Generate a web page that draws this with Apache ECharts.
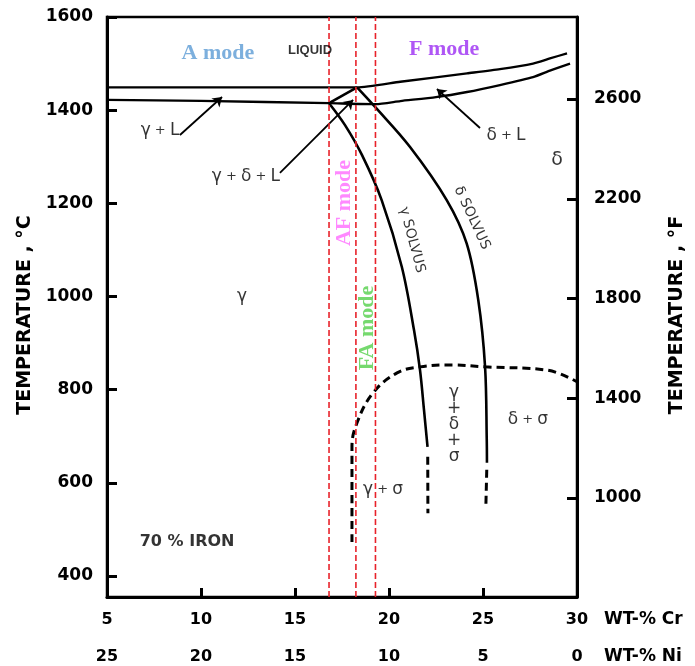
<!DOCTYPE html>
<html>
<head>
<meta charset="utf-8">
<script src="https://cdn.jsdelivr.net/npm/echarts@6/dist/echarts.min.js"></script>
<style>html,body{margin:0;padding:0;background:#fff}#c{width:695px;height:666px}</style>
</head>
<body>
<div id="c"></div>
<script>
// ---- axis values ----
const crMin = 5, crMax = 30, crStep = 5;           // WT-% Cr
const niMin = 0, niMax = 25, niStep = 5;           // WT-% Ni (reversed)
const tempCMin = 355, tempCMax = 1600;
const tempCTicks = [400, 600, 800, 1000, 1200, 1400, 1600];
const tempFMin = 603, tempFMax = 2929;
const tempFTicks = [1000, 1400, 1800, 2200, 2600];

// ---- phase boundaries [Cr wt-%, T °C] ----
const liquidusUpper = [[5,1449],[12,1449],[18.3,1449],[20.6,1461],[24.15,1479],[25.9,1488],[27.66,1500],[28.56,1511],[29.47,1522]];
const liquidusLower = [[5,1422],[10,1420],[16.81,1415],[19.3,1413],[20.6,1419.6],[22.5,1428],[24.15,1439],[25.9,1454],[27.66,1471],[28.56,1485],[29.63,1500]];
const threePhaseSide = [[16.81,1415],[18.3,1449]];
const deltaSolvus = [[18.3,1449],[19.26,1407],[21.12,1321],[23.07,1207],[24.13,1114],[24.75,992],[25.11,849],[25.2,692],[25.21,643]];
const deltaSolvusDashed = [[25.2,628],[25.15,546]];
const gammaSolvus = [[16.81,1415],[17.66,1368],[18.56,1304],[19.61,1207],[20.68,1064],[21.33,928],[21.65,842],[21.86,757],[22.05,677]];
const gammaSolvusDashed = [[22.06,656],[22.07,535]];
const sigmaBoundary = [[18.03,473],[18.03,677],[18.30,729],[19.15,793],[20.43,836],[21.65,849],[23.40,853],[25.11,849],[28.40,842],[30.0,817]];

// ---- solidification mode boundaries (Cr wt-%) ----
const modeBoundaries = [16.81, 18.24, 19.28];

// ---- arrows [from, to] ----
const arrows = [
  [[8.88,1346.7],[11.12,1428.3]],
  [[14.20,1265.2],[18.09,1421.9]],
  [[24.84,1361.7],[22.55,1445.5]]
];

// ---- labels: text and anchor [Cr, T] ----
const labelTexts = ['A mode','LIQUID','F mode','AF mode','FA mode','γ + L','γ + δ + L','δ + L','δ','γ','γ SOLVUS','δ SOLVUS','γ\n+\nδ\n+\nσ','δ + σ','γ + σ','70 % IRON'];
const labelAnchors = [[10.90,1522.7],[15.80,1529.2],[22.93,1531.3],[17.61,1200.8],[18.83,932.5],[7.82,1355.3],[12.39,1256.6],[26.22,1344.6],[28.94,1293.1],[12.18,999.0],[21.22,1121.4],[24.41,1168.6],[23.46,724.3],[27.39,735.0],[19.68,584.8],[9.26,473.2]];

// styles (separate from data)
const serifMode = (color) => ({fontFamily:'Liberation Serif', fontWeight:'bold', fontSize:22, color});
function richPlus(text){
  return text.split(' + ').map(s => '{t|' + s + '}').join('{p| + }');
}
const labelStyleFor = {
  'A mode': serifMode('#5b9bd5'),
  'F mode': serifMode('#9b2cf2'),
  'AF mode': Object.assign(serifMode('#ff6cff'), {rotate:90}),
  'FA mode': Object.assign(serifMode('#52cf4a'), {rotate:90}),
  'LIQUID': {fontFamily:'Liberation Sans', fontWeight:'bold', fontSize:13, color:'#000'},
  'γ SOLVUS': {fontFamily:'DejaVu Sans', fontSize:14, color:'#000', rotate:-75},
  'δ SOLVUS': {fontFamily:'DejaVu Sans', fontSize:14, color:'#000', rotate:-65},
  '70 % IRON': {fontFamily:'DejaVu Sans', fontWeight:'bold', fontSize:16, color:'#000'},
  'δ': {fontFamily:'DejaVu Sans', fontSize:19, color:'#000'},
  'γ': {fontFamily:'DejaVu Sans', fontSize:17, color:'#000'},
  'γ\n+\nδ\n+\nσ': {fontFamily:'DejaVu Sans', fontSize:17, color:'#000', lineHeight:16}
};

const chart = echarts.init(document.getElementById('c'), null, {renderer:'canvas'});

const blackSolid = {color:'#000', width:2.6};
const blackDash = {color:'#000', width:3, type:[8,5]};
function lineSeries(data, style, smooth){
  return {type:'line', data, showSymbol:false, symbol:'none', smooth: smooth || false,
    lineStyle: style, silent:true, z:3, animation:false, xAxisIndex:0, yAxisIndex:0};
}

const series = [
  lineSeries(liquidusUpper, {color:'#000', width:2.3}, 0.2),
  lineSeries(liquidusLower, {color:'#000', width:2.3}, 0.2),
  lineSeries(threePhaseSide, blackSolid, false),
  lineSeries(deltaSolvus, blackSolid, 0.35),
  lineSeries(deltaSolvusDashed, blackDash, false),
  lineSeries(gammaSolvus, blackSolid, 0.35),
  lineSeries(gammaSolvusDashed, blackDash, false),
  lineSeries(sigmaBoundary, blackDash, 0.4)
];
modeBoundaries.forEach(cr => {
  const s = lineSeries([[cr, tempCMin], [cr, tempCMax]], {color:'#e8222a', width:1.6, type:[6,3]}, false);
  s.z = 5;
  series.push(s);
});
series.push({
  type:'lines', coordinateSystem:'cartesian2d', xAxisIndex:0, yAxisIndex:0,
  symbol:['none','arrow'], symbolSize:9, silent:true, z:4, animation:false,
  lineStyle:{color:'#000', width:1.8, opacity:1},
  data: arrows.map(a => ({coords:a}))
});
series.push({
  type:'scatter', xAxisIndex:0, yAxisIndex:0, symbolSize:1, silent:true, z:6, animation:false,
  itemStyle:{color:'transparent'},
  data: labelTexts.map((t, i) => {
    const st = labelStyleFor[t];
    let label;
    if (st) {
      label = Object.assign({show:true, position:'inside', formatter:t, align:'center', verticalAlign:'middle'}, st);
    } else {
      label = {show:true, position:'inside', align:'center', verticalAlign:'middle',
        formatter: richPlus(t),
        rich:{t:{fontFamily:'DejaVu Sans', fontSize:17, color:'#000'}, p:{fontFamily:'DejaVu Sans', fontSize:13, color:'#000'}}};
    }
    return {value:labelAnchors[i], label};
  })
});

const plainNum = v => String(v);
const tickLabel = {fontFamily:'DejaVu Sans', fontWeight:'bold', fontSize:17, color:'#000', formatter:plainNum};
const bottomLabel = {fontFamily:'DejaVu Sans', fontWeight:'bold', fontSize:16, color:'#000', formatter:plainNum};
chart.setOption({
  animation:false,
  backgroundColor:'#fff',
  grid:{left:107, top:17, width:470, height:580, show:true, borderColor:'#000', borderWidth:2.5, containLabel:false},
  xAxis:[
    {type:'value', min:crMin, max:crMax, interval:crStep, position:'bottom',
      axisLine:{show:true, onZero:false, lineStyle:{color:'#000', width:3}},
      axisTick:{show:true, inside:true, length:9, lineStyle:{color:'#000', width:3}},
      axisLabel:Object.assign({margin:15}, bottomLabel),
      splitLine:{show:false}},
    {type:'value', min:niMin, max:niMax, interval:niStep, inverse:true, position:'bottom', offset:37,
      axisLine:{show:false}, axisTick:{show:false},
      axisLabel:Object.assign({margin:15}, bottomLabel),
      splitLine:{show:false}}
  ],
  yAxis:[
    {type:'value', min:tempCMin, max:tempCMax, position:'left',
      axisLine:{show:true, onZero:false, lineStyle:{color:'#000', width:3}},
      axisTick:{show:true, inside:true, length:10, customValues:tempCTicks, lineStyle:{color:'#000', width:3}},
      axisLabel:Object.assign({margin:14, customValues:tempCTicks}, tickLabel),
      splitLine:{show:false}},
    {type:'value', min:tempFMin, max:tempFMax, position:'right',
      axisLine:{show:true, onZero:false, lineStyle:{color:'#000', width:3}},
      axisTick:{show:true, inside:true, length:10, customValues:tempFTicks, lineStyle:{color:'#000', width:3}},
      axisLabel:Object.assign({margin:17, customValues:tempFTicks}, tickLabel),
      splitLine:{show:false}}
  ],
  graphic:[
    {type:'text', x:25, y:315, rotation:Math.PI/2, style:{text:'TEMPERATURE , °C', font:'bold 19px "DejaVu Sans"', fill:'#000', align:'center', verticalAlign:'middle'}},
    {type:'text', x:677, y:315, rotation:Math.PI/2, style:{text:'TEMPERATURE , °F', font:'bold 19px "DejaVu Sans"', fill:'#000', align:'center', verticalAlign:'middle'}},
    {type:'text', x:604, y:620, style:{text:'WT-% Cr', font:'bold 17px "DejaVu Sans"', fill:'#000', align:'left', verticalAlign:'middle'}},
    {type:'text', x:604, y:657, style:{text:'WT-% Ni', font:'bold 17px "DejaVu Sans"', fill:'#000', align:'left', verticalAlign:'middle'}}
  ],
  series
});
</script>
</body>
</html>
